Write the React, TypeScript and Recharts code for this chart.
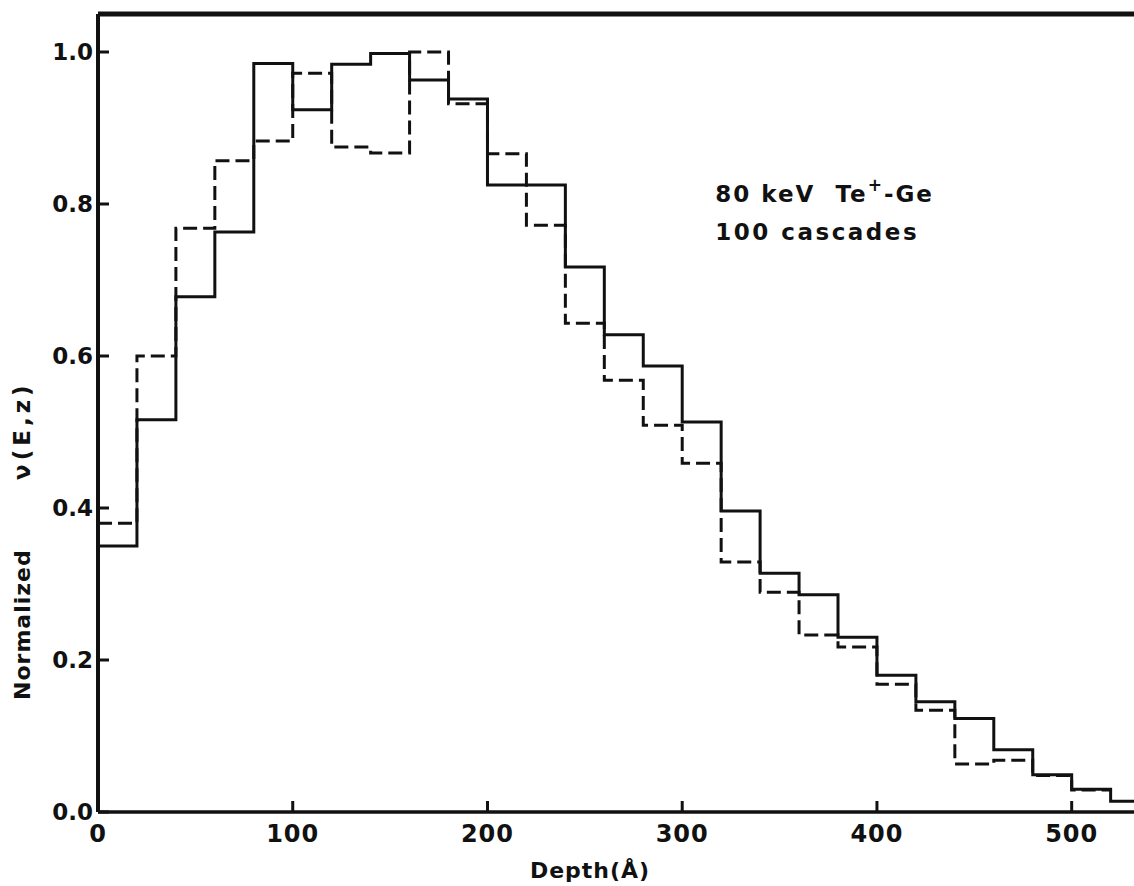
import React from "react";
import { LineChart, Line, XAxis, YAxis, ReferenceLine, ReferenceDot } from "recharts";

// Bin edges (Å) of the depth histogram
const depthEdges = [0, 20, 40, 60, 80, 100, 120, 140, 160, 180, 200, 220, 240, 260, 280, 300, 320, 340, 360, 380, 400, 420, 440, 460, 480, 500, 520, 540];
// Solid histogram (one value per bin, bins start at depthEdges[i])
const solidValues = [0.35, 0.516, 0.678, 0.763, 0.985, 0.924, 0.984, 0.998, 0.963, 0.938, 0.825, 0.825, 0.717, 0.628, 0.587, 0.513, 0.396, 0.314, 0.286, 0.23, 0.18, 0.145, 0.123, 0.082, 0.049, 0.03, 0.014];
// Dashed histogram
const dashedValues = [0.38, 0.6, 0.768, 0.857, 0.883, 0.972, 0.875, 0.867, 1.0, 0.932, 0.866, 0.772, 0.643, 0.568, 0.509, 0.459, 0.329, 0.289, 0.233, 0.217, 0.168, 0.134, 0.063, 0.068, 0.048, 0.029];

const xTicks = [0, 100, 200, 300, 400, 500];
const yTicks = [0, 0.2, 0.4, 0.6, 0.8, 1.0];
const xMax = 532;
const yMax = 1.05;

const annotationLine1 = "80 keV  Te";
const annotationSup = "+";
const annotationLine1b = "-Ge";
const annotationLine2 = "100 cascades";
const yTitleA = "Normalized";
const yTitleB = "ν(E,z)";
const xTitle = "Depth(Å)";

const data = depthEdges.map((d, i) => ({
  depth: d,
  solid: solidValues[Math.min(i, solidValues.length - 1)],
  dashed:
    i < dashedValues.length
      ? dashedValues[i]
      : i === dashedValues.length
      ? dashedValues[i - 1]
      : null,
}));

const INK = "#111";
const FONT = "'DejaVu Sans', sans-serif";

const YTick = (props: any) => {
  const { x, y, payload } = props;
  return (
    <g>
      <line x1={x} x2={x + 11} y1={y} y2={y} stroke={INK} strokeWidth={3} />
      <text x={x - 5} y={y} dy={8} textAnchor="end" fontFamily={FONT} fontWeight="bold" fontSize={23} fill={INK}>
        {Number(payload.value).toFixed(1)}
      </text>
    </g>
  );
};

const XTick = (props: any) => {
  const { x, y, payload } = props;
  return (
    <g>
      <line x1={x} x2={x} y1={y} y2={y - 11} stroke={INK} strokeWidth={3} />
      <text x={x} y={y} dy={30} textAnchor="middle" fontFamily={FONT} fontWeight="bold" fontSize={24} letterSpacing={1} fill={INK}>
        {payload.value}
      </text>
    </g>
  );
};

const YTitle = (props: any) => {
  const { viewBox } = props;
  const cx = viewBox.x + 22;
  const mid = viewBox.y + viewBox.height / 2;
  const yA = mid + 287;
  const yB = mid + 67;
  return (
    <g>
      <text
        x={cx}
        y={yA}
        transform={`rotate(-90 ${cx} ${yA})`}
        textAnchor="start"
        dominantBaseline="central"
        fontFamily={FONT}
        fontWeight="bold"
        fontSize={22}
        letterSpacing={1}
        fill={INK}
      >
        {yTitleA}
      </text>
      <text
        x={cx}
        y={yB}
        transform={`rotate(-90 ${cx} ${yB})`}
        textAnchor="start"
        dominantBaseline="central"
        fontFamily={FONT}
        fontWeight="bold"
        fontSize={23}
        letterSpacing={4}
        fill={INK}
      >
        {yTitleB}
      </text>
    </g>
  );
};

const XTitle = (props: any) => {
  const { viewBox } = props;
  return (
    <text
      x={viewBox.x + viewBox.width / 2 - 26}
      y={viewBox.y + 66}
      textAnchor="middle"
      fontFamily={FONT}
      fontWeight="bold"
      fontSize={22}
      letterSpacing={1}
      fill={INK}
    >
      {xTitle}
    </text>
  );
};

const Annotation = (props: any) => {
  const { viewBox } = props;
  const x = viewBox.x;
  const y = viewBox.y;
  return (
    <g>
      <text x={x} y={y} fontFamily={FONT} fontWeight="bold" fontSize={23} letterSpacing={2} fill={INK} xmlSpace="preserve">
        {annotationLine1}
        <tspan dy={-11} fontSize={17}>{annotationSup}</tspan>
        <tspan dy={11}>{annotationLine1b}</tspan>
      </text>
      <text x={x} y={y + 38} fontFamily={FONT} fontWeight="bold" fontSize={23} letterSpacing={2.5} fill={INK}>
        {annotationLine2}
      </text>
    </g>
  );
};

export default function App() {
  return (
    <div style={{ position: "absolute", left: 0, top: 0, width: 1134, height: 886, background: "#fff" }}>
      <LineChart width={1134} height={886} data={data} margin={{ top: 14, right: 0, bottom: 0, left: 0 }}>
        <XAxis
          dataKey="depth"
          type="number"
          domain={[0, xMax]}
          allowDataOverflow
          ticks={xTicks}
          height={74}
          tickSize={0}
          tickMargin={0}
          tickLine={false}
          axisLine={{ stroke: INK, strokeWidth: 3.5 }}
          tick={<XTick />}
          label={<XTitle />}
          interval={0}
        />
        <YAxis
          type="number"
          domain={[0, yMax]}
          allowDataOverflow
          ticks={yTicks}
          width={98}
          tickSize={0}
          tickMargin={0}
          tickLine={false}
          axisLine={{ stroke: INK, strokeWidth: 4 }}
          tick={<YTick />}
          label={<YTitle />}
          interval={0}
        />
        <ReferenceLine y={yMax} stroke={INK} strokeWidth={5} />
        <Line
          type="stepAfter"
          dataKey="dashed"
          stroke={INK}
          strokeWidth={3}
          strokeDasharray="14 6"
          dot={false}
          isAnimationActive={false}
        />
        <Line
          type="stepAfter"
          dataKey="solid"
          stroke={INK}
          strokeWidth={3}
          dot={false}
          isAnimationActive={false}
        />
        <ReferenceDot x={317} y={0.803} r={0} fill="none" stroke="none" label={<Annotation />} />
      </LineChart>
    </div>
  );
}
